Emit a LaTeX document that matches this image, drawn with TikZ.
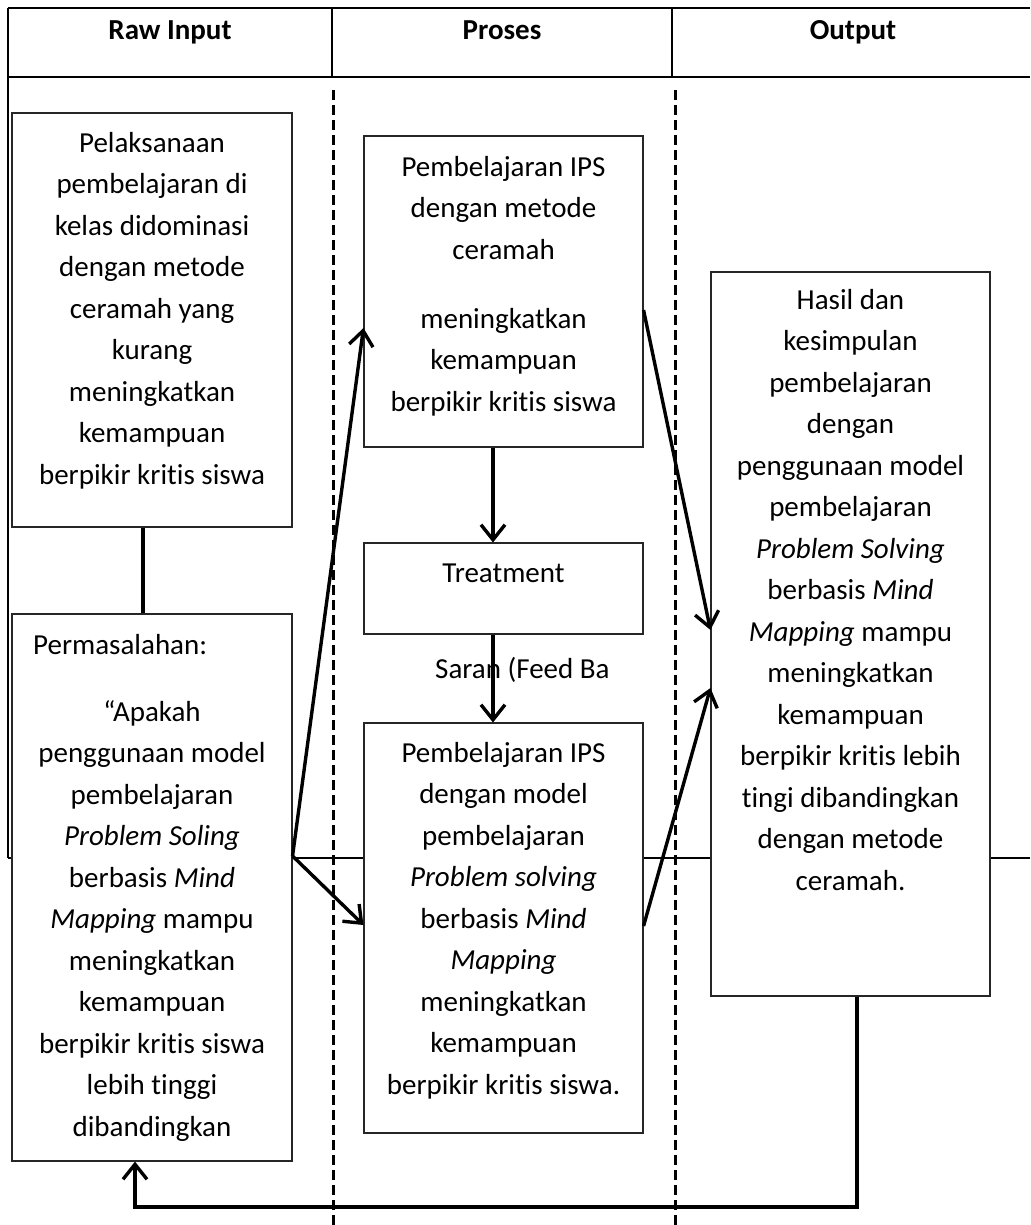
\documentclass[tikz,border=0pt]{standalone}
\usepackage{fontspec}
\setmainfont{Carlito}[Ligatures={NoCommon}]
\usetikzlibrary{arrows.meta}
\begin{document}
\begin{tikzpicture}[x=1pt,y=-1pt,
  tbl/.style={line width=1.6pt,black},
  hdr/.style={font=\fontsize{29pt}{35pt}\selectfont\bfseries,anchor=base,inner sep=0pt},
  box/.style={draw=black!85,line width=1.1pt,fill=white,rectangle,inner sep=0pt},
  txt/.style={font=\fontsize{29pt}{41.5pt}\selectfont,align=center,anchor=north,inner sep=0pt},
  divline/.style={line width=3pt,dash pattern=on 10pt off 5pt},
  arr/.style={line width=3.4pt,-{Straight Barb[length=15pt,width=24pt,line width=3.4pt]}},
  conn/.style={line width=3.4pt}
]
\useasboundingbox (0,0) rectangle (1030,1225);
% table
\draw[tbl] (8,8) -- (1030,8);
\draw[line width=2.4pt] (8,77) -- (1030,77);
\draw[tbl] (8,8) -- (8,858);
\draw[tbl] (332,8) -- (332,77);
\draw[tbl] (672,8) -- (672,77);
\draw[tbl] (8,858) -- (1030,858);
\node[hdr] (h1) at (170,40) {Raw Input};
\node[hdr] (h2) at (502,40) {Proses};
\node[hdr] (h3) at (853,40) {Output};
% dashed dividers
\draw[divline] (333,90) -- (333,1225);
\draw[divline] (675,90) -- (675,1225);
% boxes
\node[box,minimum width=280pt,minimum height=414pt] (b1) at (152,320) {};
\node[box,minimum width=280pt,minimum height=547pt] (b2) at (152,887.5) {};
\node[box,minimum width=279pt,minimum height=311pt] (p1) at (503.5,291.5) {};
\node[box,minimum width=279pt,minimum height=91pt] (p2) at (503.5,588.5) {};
\node[box,minimum width=279pt,minimum height=410pt] (p3) at (503.5,928) {};
\node[box,minimum width=279pt,minimum height=724pt] (out) at (850.5,634) {};
% texts
\node[txt] (t1) at (152,123) {\strut Pelaksanaan\\pembelajaran di\\kelas didominasi\\dengan metode\\ceramah yang\\kurang\\meningkatkan\\kemampuan\\berpikir kritis siswa};
\node[font=\fontsize{29pt}{41.5pt}\selectfont,anchor=base west,inner sep=0pt] (t2a) at (33,654) {Permasalahan:};
\node[txt] (t2) at (152,692) {\strut “Apakah\\penggunaan model\\pembelajaran\\\textit{Problem Soling}\\berbasis \textit{Mind}\\\textit{Mapping} mampu\\meningkatkan\\kemampuan\\berpikir kritis siswa\\lebih tinggi\\dibandingkan};
\node[txt] (t3) at (503.5,147) {\strut Pembelajaran IPS\\dengan metode\\ceramah\\[27.5pt]meningkatkan\\kemampuan\\berpikir kritis siswa};
\node[font=\fontsize{29pt}{41.5pt}\selectfont,anchor=base,inner sep=0pt] (t4) at (503.5,582) {Treatment};
\node[txt] (t5) at (503.5,733) {\strut Pembelajaran IPS\\dengan model\\pembelajaran\\\textit{Problem solving}\\berbasis \textit{Mind}\\\textit{Mapping}\\meningkatkan\\kemampuan\\berpikir kritis siswa.};
\node[txt] (t6) at (850.5,280) {\strut Hasil dan\\kesimpulan\\pembelajaran\\dengan\\penggunaan model\\pembelajaran\\\textit{Problem Solving}\\berbasis \textit{Mind}\\\textit{Mapping} mampu\\meningkatkan\\kemampuan\\berpikir kritis lebih\\tingi dibandingkan\\dengan metode\\ceramah.};
\node[font=\fontsize{29pt}{41.5pt}\selectfont,anchor=base west,inner sep=0pt] (lbl) at (435,678) {Saran (Feed Ba};
% connectors
\draw[conn] ([xshift=-9pt]b1.south) -- ([xshift=-9pt]b2.north);
\draw[arr] ([yshift=31.5pt]b2.east) -- ([yshift=-36.5pt]p1.west);
\draw[arr] ([yshift=31.5pt]b2.east) -- ([yshift=3pt]p3.west);
\draw[arr] ([yshift=-18.5pt]p1.east) -- ([yshift=4pt]out.west);
\draw[arr] ([yshift=2pt]p3.east) -- ([yshift=-54pt]out.west);
\draw[arr] ([xshift=-10.5pt]p1.south) -- ([xshift=-10.5pt]p2.north);
\draw[arr] ([xshift=-10.5pt]p2.south) -- ([xshift=-10.5pt]p3.north);
\coordinate (fb) at (135,1207);
\draw[arr] ([xshift=6.5pt]out.south) |- (fb) -- ([xshift=-17pt]b2.south);
\end{tikzpicture}
\end{document}
